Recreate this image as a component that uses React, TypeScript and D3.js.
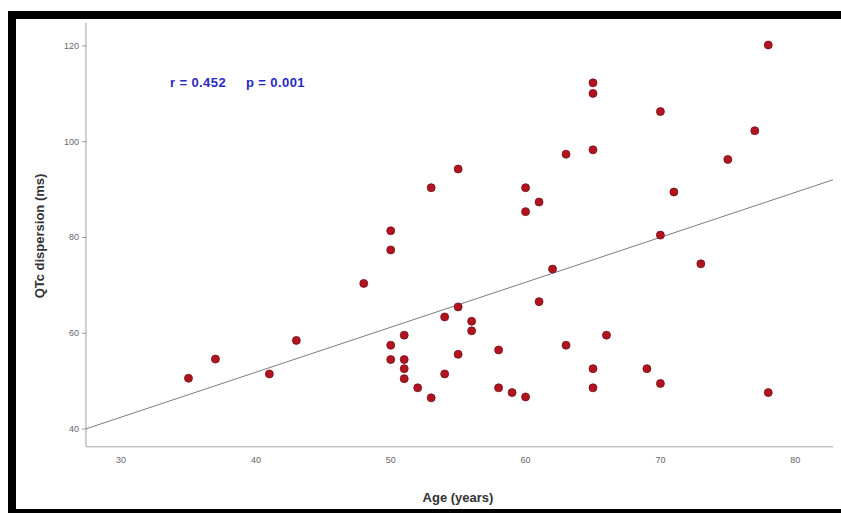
import React, { useEffect, useRef } from 'react';
import * as d3 from 'd3';

// Age (years) of each patient
const ages = [
    35, 37, 41, 43, 48,
    50, 50, 50, 50,
    51, 51, 51, 51,
    52, 53, 53, 54, 54,
    55, 55, 55, 56, 56,
    58, 58, 59, 60, 60, 60,
    61, 61, 62, 63, 63,
    65, 65, 65, 65, 65,
    66, 69, 70, 70, 70,
    71, 73, 75, 77, 78, 78,
];

// QTc dispersion (ms), same order as ages
const qtcDispersion = [
    50.6, 54.6, 51.5, 58.5, 70.4,
    81.4, 77.4, 57.5, 54.5,
    59.6, 54.5, 52.6, 50.5,
    48.6, 90.4, 46.5, 63.4, 51.5,
    94.3, 65.5, 55.6, 62.5, 60.5,
    56.5, 48.6, 47.6, 90.4, 85.4, 46.7,
    87.4, 66.6, 73.4, 97.4, 57.5,
    112.3, 110.1, 98.3, 52.6, 48.6,
    59.6, 52.6, 106.3, 80.5, 49.5,
    89.5, 74.5, 96.3, 102.3, 120.2, 47.6,
];

const xTicks = [30, 40, 50, 60, 70, 80];
const yTicks = [40, 60, 80, 100, 120];

// fit line as drawn in the picture
const fitIntercept = 14.3;
const fitSlope = 0.939;

const statLabels = ['r = 0.452', 'p = 0.001'];

const W = 841;
const H = 513;

function ScatterChart() {
    const svgRef = useRef<SVGSVGElement>(null);

    useEffect(() => {
        const svg = d3.select(svgRef.current);
        svg.selectAll('*').remove();

        const x = d3.scaleLinear().domain([27.4, 82.8]).range([86, 833]);
        const y = d3.scaleLinear().domain([36.3, 124.8]).range([446.7, 23]);

        // white page with thick black frame
        svg.append('rect').attr('width', W).attr('height', H).attr('fill', '#fff');
        svg.append('rect')
            .attr('x', 12).attr('y', 15)
            .attr('width', 840).attr('height', 498)
            .attr('fill', 'none')
            .attr('stroke', '#000')
            .attr('stroke-width', 8);

        // axes
        svg.append('line')
            .attr('x1', x.range()[0]).attr('x2', x.range()[1])
            .attr('y1', y.range()[0]).attr('y2', y.range()[0])
            .attr('stroke', '#c4c4c4').attr('stroke-width', 1.6);
        svg.append('line')
            .attr('x1', x.range()[0]).attr('x2', x.range()[0])
            .attr('y1', y.range()[0]).attr('y2', y.range()[1])
            .attr('stroke', '#c4c4c4').attr('stroke-width', 1.6);

        // y ticks + labels
        svg.selectAll('.ytick')
            .data(yTicks)
            .enter()
            .append('line')
            .attr('x1', x.range()[0] - 4).attr('x2', x.range()[0])
            .attr('y1', (d) => y(d)).attr('y2', (d) => y(d))
            .attr('stroke', '#999').attr('stroke-width', 1);
        svg.selectAll('.ylab')
            .data(yTicks)
            .enter()
            .append('text')
            .attr('x', 79)
            .attr('y', (d) => y(d) + 3)
            .attr('text-anchor', 'end')
            .style('font-family', 'Liberation Sans, Arial, sans-serif')
            .style('font-size', '9px')
            .style('fill', '#666')
            .text((d) => d);

        // x labels
        svg.selectAll('.xlab')
            .data(xTicks)
            .enter()
            .append('text')
            .attr('x', (d) => x(d))
            .attr('y', 463)
            .attr('text-anchor', 'middle')
            .style('font-family', 'Liberation Sans, Arial, sans-serif')
            .style('font-size', '9px')
            .style('fill', '#666')
            .text((d) => d);

        // axis titles
        svg.append('text')
            .attr('x', 458).attr('y', 502)
            .attr('text-anchor', 'middle')
            .style('font-family', 'Liberation Sans, Arial, sans-serif')
            .style('font-size', '13px')
            .style('font-weight', 'bold')
            .style('fill', '#333')
            .text('Age (years)');
        svg.append('text')
            .attr('transform', 'translate(44, 236) rotate(-90)')
            .attr('text-anchor', 'middle')
            .style('font-family', 'Liberation Sans, Arial, sans-serif')
            .style('font-size', '13px')
            .style('font-weight', 'bold')
            .style('fill', '#333')
            .text('QTc dispersion (ms)');

        // regression line
        const xd = x.domain();
        svg.append('line')
            .attr('x1', x(xd[0])).attr('y1', y(fitIntercept + fitSlope * xd[0]))
            .attr('x2', x(xd[1])).attr('y2', y(fitIntercept + fitSlope * xd[1]))
            .attr('stroke', '#7a7a7a').attr('stroke-width', 1);

        // points
        svg.selectAll('.dot')
            .data(ages.map((a, i) => [a, qtcDispersion[i]]))
            .enter()
            .append('circle')
            .attr('cx', (d) => x(d[0]))
            .attr('cy', (d) => y(d[1]))
            .attr('r', 4)
            .attr('fill', '#b3121f')
            .attr('stroke', '#6e1420')
            .attr('stroke-width', 0.8);

        // correlation text
        svg.selectAll('.stat')
            .data(statLabels)
            .enter()
            .append('text')
            .attr('x', (_, i) => (i === 0 ? 170 : 246))
            .attr('y', 87)
            .style('font-family', 'Liberation Sans, Arial, sans-serif')
            .style('font-size', '13px')
            .style('letter-spacing', '0.4px')
            .style('font-weight', 'bold')
            .style('fill', '#2828c4')
            .text((d) => d);
    }, []);

    return (
        <svg ref={svgRef} width={W} height={H}
            style={{ position: 'absolute', left: 0, top: 0, display: 'block' }} />
    );
}

export default function App() {
    return <ScatterChart />;
}
